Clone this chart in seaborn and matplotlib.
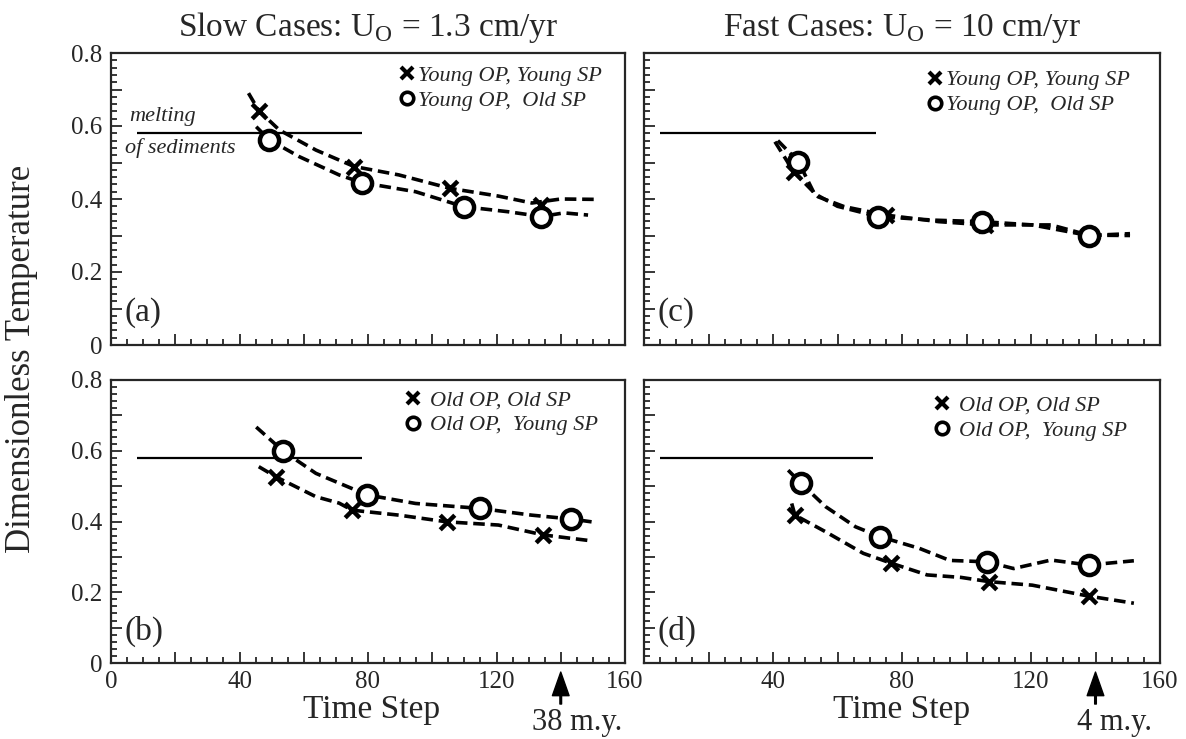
import matplotlib
matplotlib.use("Agg")
import matplotlib.pyplot as plt
from matplotlib.font_manager import FontProperties
from matplotlib.lines import Line2D
from matplotlib.ticker import MultipleLocator
import seaborn as sns

# ---- data (time step, dimensionless temperature) ----
# (a) slow, young overriding plate
a_yy_t = [42.8, 46.0, 52.4, 63.8, 75.7, 89.6, 105.6, 120.6, 131.0, 140.0, 150.6]
a_yy_T = [0.690, 0.642, 0.589, 0.534, 0.489, 0.466, 0.429, 0.408, 0.389, 0.400, 0.399]
a_yy_mt = [46.0, 75.7, 105.6, 134.0]
a_yy_mT = [0.642, 0.489, 0.429, 0.384]
a_yo_t = [45.2, 49.3, 58.6, 71.0, 78.0, 94.8, 109.8, 123.7, 134.0, 141.0, 148.5]
a_yo_T = [0.598, 0.562, 0.516, 0.466, 0.445, 0.420, 0.379, 0.365, 0.352, 0.362, 0.356]
a_yo_mt = [49.3, 78.0, 109.8, 134.0]
a_yo_mT = [0.562, 0.445, 0.379, 0.352]

# (b) slow, old overriding plate
b_oo_t = [46.0, 51.4, 63.8, 71.0, 75.1, 89.6, 104.6, 120.6, 134.6, 149.0]
b_oo_T = [0.555, 0.526, 0.470, 0.452, 0.432, 0.418, 0.399, 0.390, 0.362, 0.346]
b_oo_mt = [51.4, 75.1, 104.6, 134.6]
b_oo_mT = [0.526, 0.432, 0.399, 0.362]
b_oy_t = [45.2, 53.6, 63.8, 79.8, 94.8, 114.9, 130.9, 143.3, 149.6]
b_oy_T = [0.667, 0.599, 0.536, 0.475, 0.451, 0.437, 0.418, 0.407, 0.399]
b_oy_mt = [53.6, 79.8, 114.9, 143.3]
b_oy_mT = [0.599, 0.475, 0.437, 0.407]

# (c) fast, young overriding plate
c_yy_t = [40.6, 46.4, 54.0, 62.1, 74.9, 91.3, 105.8, 126.2, 137.9, 150.7]
c_yy_T = [0.557, 0.475, 0.406, 0.379, 0.356, 0.338, 0.329, 0.329, 0.301, 0.300]
c_yy_mt = [46.4, 74.9, 105.8, 137.9]
c_yy_mT = [0.475, 0.356, 0.329, 0.301]
c_yo_t = [41.5, 47.9, 52.8, 60.0, 72.6, 90.0, 104.7, 120.4, 137.9, 150.7]
c_yo_T = [0.560, 0.502, 0.415, 0.380, 0.352, 0.342, 0.338, 0.329, 0.300, 0.305]
c_yo_mt = [47.9, 72.6, 104.7, 137.9]
c_yo_mT = [0.502, 0.352, 0.338, 0.300]

# (d) fast, old overriding plate
d_oo_t = [45.8, 46.8, 56.3, 68.0, 76.7, 87.8, 98.3, 107.0, 120.4, 137.9, 151.9]
d_oo_T = [0.451, 0.418, 0.371, 0.310, 0.282, 0.249, 0.242, 0.230, 0.220, 0.189, 0.169]
d_oo_mt = [46.8, 76.7, 107.0, 137.9]
d_oo_mT = [0.418, 0.282, 0.230, 0.189]
d_oy_t = [44.7, 48.7, 56.3, 65.6, 73.2, 85.4, 94.8, 106.4, 114.6, 126.2, 137.9, 151.9]
d_oy_T = [0.545, 0.508, 0.442, 0.385, 0.357, 0.324, 0.290, 0.286, 0.267, 0.291, 0.277, 0.289]
d_oy_mt = [48.7, 73.2, 106.4, 137.9]
d_oy_mT = [0.508, 0.357, 0.286, 0.277]

melt_level = 0.58
x_ticks = [0, 20, 40, 60, 80, 100, 120, 140, 160]
x_labels_left = ["0", "", "40", "", "80", "", "120", "", "160"]
x_labels_right = ["", "", "40", "", "80", "", "120", "", "160"]
y_ticks = [0, 0.1, 0.2, 0.3, 0.4, 0.5, 0.6, 0.7, 0.8]
y_labels = ["0", "", "0.2", "", "0.4", "", "0.6", "", "0.8"]

SERIF = ["Liberation Serif", "DejaVu Serif"]


def draw_curves(ax, t, T, mt, mT, marker):
    sns.lineplot(x=t, y=T, ax=ax, sort=False, estimator=None, color="black",
                 lw=2.6, linestyle=(0, (3.2, 1.6)), zorder=2)
    if marker == "x":
        sns.scatterplot(x=mt, y=mT, ax=ax, marker="x", s=110, color="black",
                        linewidth=3.2, zorder=4)
    else:
        sns.scatterplot(x=mt, y=mT, ax=ax, marker="o", s=190, color="white",
                        edgecolor="black", linewidth=3.2, zorder=4)


def style_axes(ax, show_x, show_y, right):
    ax.set_xlim(0, 160)
    ax.set_ylim(0, 0.8)
    ax.set_xticks(x_ticks)
    ax.set_yticks(y_ticks)
    ax.set_xticklabels((x_labels_right if right else x_labels_left) if show_x else [""] * 9)
    ax.set_yticklabels(y_labels if show_y else [""] * 9)
    ax.xaxis.set_minor_locator(MultipleLocator(5))
    ax.yaxis.set_minor_locator(MultipleLocator(0.02))
    ax.tick_params(which="both", direction="in", top=False, right=False,
                   labelsize=18, width=1.3, pad=6)
    ax.tick_params(which="major", length=8)
    ax.tick_params(which="minor", length=4)
    for s in ax.spines.values():
        s.set_visible(True)
        s.set_linewidth(1.6)
    ax.set_xlabel("")
    ax.set_ylabel("")


def add_legend(ax, labels, anchor, pad):
    handles = [
        Line2D([], [], ls="none", marker="x", color="black", mew=3, ms=8),
        Line2D([], [], ls="none", marker="o", mfc="white", mec="black", mew=2.6, ms=9),
    ]
    ax.legend(handles, labels, loc="upper left", bbox_to_anchor=anchor,
              frameon=False, handlelength=0.6, handletextpad=pad,
              labelspacing=0.2, borderpad=0, borderaxespad=0,
              prop=FontProperties(family=SERIF, style="italic", size=16))


def add_age_arrow(ax, text, text_x):
    tr = ax.get_xaxis_transform()
    ax.annotate("", xy=(140, -0.032), xycoords=tr, xytext=(140, -0.145), textcoords=tr,
                arrowprops=dict(facecolor="black", edgecolor="black", width=1.2,
                                headwidth=12, headlength=17, shrink=0),
                annotation_clip=False)
    ax.text(text_x, -0.235, text, transform=tr, ha="center", va="baseline", fontsize=22)


def main() -> None:
    sns.set_style("ticks")
    plt.rcParams["font.family"] = SERIF
    plt.rcParams["mathtext.fontset"] = "custom"
    plt.rcParams["mathtext.rm"] = "Liberation Serif"

    fig = plt.figure(figsize=(11.86, 7.39), dpi=100)
    W, H = 1186, 739

    def box(l, r, t, b):
        return [l / W, 1 - b / H, (r - l) / W, (b - t) / H]

    ax_a = fig.add_axes(box(111, 625, 53, 345))
    ax_b = fig.add_axes(box(111, 625, 380, 663))
    ax_c = fig.add_axes(box(644, 1160, 53, 345))
    ax_d = fig.add_axes(box(644, 1160, 380, 663))

    draw_curves(ax_a, a_yy_t, a_yy_T, a_yy_mt, a_yy_mT, "x")
    draw_curves(ax_a, a_yo_t, a_yo_T, a_yo_mt, a_yo_mT, "o")
    draw_curves(ax_b, b_oo_t, b_oo_T, b_oo_mt, b_oo_mT, "x")
    draw_curves(ax_b, b_oy_t, b_oy_T, b_oy_mt, b_oy_mT, "o")
    draw_curves(ax_c, c_yy_t, c_yy_T, c_yy_mt, c_yy_mT, "x")
    draw_curves(ax_c, c_yo_t, c_yo_T, c_yo_mt, c_yo_mT, "o")
    draw_curves(ax_d, d_oo_t, d_oo_T, d_oo_mt, d_oo_mT, "x")
    draw_curves(ax_d, d_oy_t, d_oy_T, d_oy_mt, d_oy_mT, "o")

    style_axes(ax_a, False, True, False)
    style_axes(ax_b, True, True, False)
    style_axes(ax_c, False, False, True)
    style_axes(ax_d, True, False, True)

    # melting of sediments reference line
    ax_a.hlines(melt_level, 8, 78, color="black", lw=1.6)
    ax_b.hlines(melt_level, 8, 78, color="black", lw=1.6)
    ax_c.hlines(melt_level, 5, 72, color="black", lw=1.6)
    ax_d.hlines(melt_level, 5, 71, color="black", lw=1.6)
    ital = dict(fontsize=16, style="italic", va="center", ha="left")
    ax_a.text(5.6, 0.625, "melting", **ital)
    ax_a.text(4.5, 0.54, "of sediments", **ital)

    for ax, tag in [(ax_a, "(a)"), (ax_b, "(b)"), (ax_c, "(c)"), (ax_d, "(d)")]:
        ax.text(4.2, 0.09, tag, fontsize=24, va="center", ha="left")

    add_legend(ax_a, ["Young OP, Young SP", "Young OP,  Old SP"], (0.562, 0.959), 0.2)
    add_legend(ax_c, ["Young OP, Young SP", "Young OP,  Old SP"], (0.551, 0.942), 0.2)
    add_legend(ax_b, ["Old OP, Old SP", "Old OP,  Young SP"], (0.574, 0.965), 0.5)
    add_legend(ax_d, ["Old OP, Old SP", "Old OP,  Young SP"], (0.564, 0.947), 0.5)

    add_age_arrow(ax_b, "38 m.y.", 145.0)
    add_age_arrow(ax_d, "4 m.y.", 146.0)

    fig.text(368 / W, 1 - 36 / H, r"Slow Cases: U$_{\mathrm{O}}$ = 1.3 cm/yr",
             ha="center", va="baseline", fontsize=24)
    fig.text(902 / W, 1 - 36 / H, r"Fast Cases: U$_{\mathrm{O}}$ = 10 cm/yr",
             ha="center", va="baseline", fontsize=24)
    fig.text(372 / W, 1 - 718 / H, "Time Step", ha="center", va="baseline", fontsize=24)
    fig.text(902 / W, 1 - 718 / H, "Time Step", ha="center", va="baseline", fontsize=24)
    fig.text(22 / W, 0.515, "Dimensionless Temperature", rotation=90,
             ha="center", va="center", fontsize=25)

    fig.savefig("out.png", dpi=100, facecolor="white")
    plt.close(fig)


if __name__ == "__main__":
    main()
